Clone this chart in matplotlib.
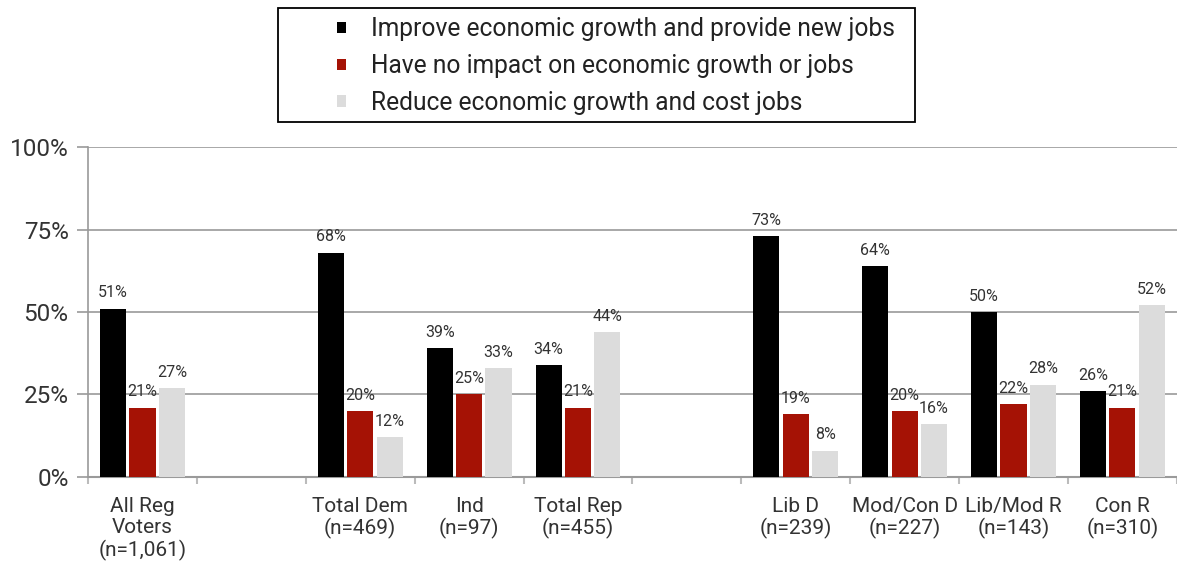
import numpy as np
import matplotlib.pyplot as plt
from matplotlib.pyplot import rcParams
from matplotlib.patches import Rectangle

configs = {
    "font.family": ["Roboto", "DejaVu Sans"],
    "font.size": 12,
    "axes.unicode_minus": False,
}
rcParams.update(configs)

# slots on the x axis, empty strings are spacer slots
categories = [
    "All Reg\nVoters\n(n=1,061)",
    "",
    "Total Dem\n(n=469)",
    "Ind\n(n=97)",
    "Total Rep\n(n=455)",
    "",
    "Lib D\n(n=239)",
    "Mod/Con D\n(n=227)",
    "Lib/Mod R\n(n=143)",
    "Con R\n(n=310)",
]
improve = [51, None, 68, 39, 34, None, 73, 64, 50, 26]
no_impact = [21, None, 20, 25, 21, None, 19, 20, 22, 21]
reduce_ = [27, None, 12, 33, 44, None, 8, 16, 28, 52]

series_names = [
    "Improve economic growth and provide new jobs",
    "Have no impact on economic growth or jobs",
    "Reduce economic growth and cost jobs",
]
colors = ["#000000", "#A51205", "#DCDCDC"]
y_ticks = [0, 25, 50, 75, 100]

fig = plt.figure(figsize=(11.77, 5.63), dpi=100)
ax = fig.add_axes([0.0748, 0.1528, 0.925, 0.586])

x = np.arange(len(categories))
width = 0.24
step = 0.27
grid_color = "#9A9A9A"

for i, (vals, name, col) in enumerate(zip([improve, no_impact, reduce_], series_names, colors)):
    xs = [xi + (i - 1) * step for xi, v in zip(x, vals) if v is not None]
    vs = [v for v in vals if v is not None]
    ax.bar(xs, vs, width=width, color=col, label=name, zorder=3)
    for xv, v in zip(xs, vs):
        ax.text(xv, v + 2.5, f"{v}%", ha="center", va="bottom",
                fontsize=11.5, color="#333333", zorder=4)

ax.set_xlim(-0.5, len(categories) - 0.5)
ax.set_ylim(0, 100)
ax.set_yticks(y_ticks)
ax.set_yticklabels([f"{t}%" for t in y_ticks], fontsize=17.5, color="#333333")
ax.yaxis.grid(True, color=grid_color, linewidth=1.2, zorder=0)
ax.tick_params(axis="y", length=8, color=grid_color, width=1.2, pad=6)

# category labels at slot centres, tick marks at slot boundaries
ax.set_xticks(np.arange(len(categories) + 1) - 0.5)
ax.set_xticklabels([])
ax.tick_params(axis="x", length=5, color="#BBBBBB", width=1.5)
for xi, lab in zip(x, categories):
    ax.text(xi, -6, lab, ha="center", va="top", fontsize=15,
            color="#333333", linespacing=1.15, transform=ax.transData)

for side in ["top", "right"]:
    ax.spines[side].set_visible(False)
ax.spines["left"].set_color(grid_color)
ax.spines["left"].set_linewidth(1.2)
ax.spines["bottom"].set_color(grid_color)
ax.spines["bottom"].set_linewidth(1.5)

# legend box drawn separately so the entries can sit indented inside it
fig.patches.append(Rectangle((278 / 1177, 1 - 122 / 563), 637 / 1177, 114 / 563,
                             transform=fig.transFigure, fill=False,
                             edgecolor="#000000", linewidth=1.3))
leg = fig.legend(loc="upper left", bbox_to_anchor=(330 / 1177, 1 - 10 / 563),
                 fontsize=17.7, frameon=False,
                 handlelength=0.35, handleheight=0.35, handletextpad=1.0,
                 labelspacing=0.52, borderpad=0.3, borderaxespad=0)
for t in leg.get_texts():
    t.set_color("#222222")

fig.savefig("out.png", dpi=100)
